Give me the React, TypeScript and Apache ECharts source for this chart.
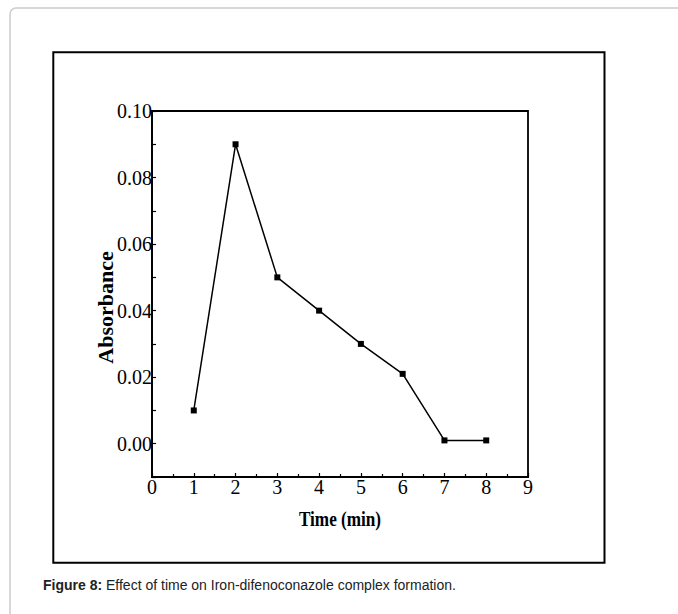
import React, { useEffect, useRef } from "react";
import * as echarts from "echarts";

const timeValues = [1, 2, 3, 4, 5, 6, 7, 8];
const absorbanceValues = [0.01, 0.09, 0.05, 0.04, 0.03, 0.021, 0.001, 0.001];
const xTickLabels = ["0", "1", "2", "3", "4", "5", "6", "7", "8", "9"];
const yTickLabels = ["0.00", "0.02", "0.04", "0.06", "0.08", "0.10"];
const xAxisTitle = "Time (min)";
const yAxisTitle = "Absorbance";
const captionBold = "Figure 8:";
const captionText = " Effect of time on Iron-difenoconazole complex formation.";

const SERIF = '"Liberation Serif", "Times New Roman", serif';
const SANS = '"Liberation Sans", Arial, sans-serif';

export default function App() {
  const ref = useRef<HTMLDivElement>(null);
  useEffect(() => {
    if (!ref.current) return;
    const chart = echarts.init(ref.current, null, { renderer: "svg" });
    const data = timeValues.map((t, i) => [t, absorbanceValues[i]]);
    chart.setOption({
      animation: false,
      backgroundColor: "#fff",
      grid: {
        left: 152,
        right: 150,
        top: 111,
        bottom: 137,
        show: true,
        borderColor: "#000",
        borderWidth: 1.8,
        containLabel: false,
      },
      xAxis: {
        type: "value",
        min: 0,
        max: 9,
        interval: 1,
        axisLine: { show: true, onZero: false, lineStyle: { color: "#000", width: 1.8 } },
        axisTick: { show: true, inside: true, length: 4, lineStyle: { color: "#000", width: 1.2 } },
        minorTick: { show: true, splitNumber: 2, length: 3, lineStyle: { color: "#000", width: 1.2 } },
        splitLine: { show: false },
        axisLabel: {
          margin: 0,
          fontFamily: SERIF,
          fontSize: 20,
          color: "#000",
          formatter: (v: number) => {
            const idx = Math.round(v);
            return xTickLabels[idx] ?? "";
          },
        },
      },
      yAxis: {
        type: "value",
        min: -0.01,
        max: 0.1,
        interval: 0.01,
        axisLine: { show: true, onZero: false, lineStyle: { color: "#000", width: 1.8 } },
        axisTick: { show: true, inside: true, length: 4, lineStyle: { color: "#000", width: 1.2 } },
        splitLine: { show: false },
        axisLabel: {
          margin: 0,
          fontFamily: SERIF,
          fontSize: 20,
          color: "#000",
          showMinLabel: true,
          showMaxLabel: true,
          formatter: (v: number) => {
            const k = Math.round(v * 100);
            if (k < 0 || k % 2 !== 0) return "";
            return yTickLabels[k / 2] ?? "";
          },
        },
      },
      series: [
        {
          type: "line",
          data,
          symbol: "rect",
          symbolSize: 6,
          lineStyle: { color: "#000", width: 1.5 },
          itemStyle: { color: "#000" },
          z: 5,
        },
      ],
      graphic: [
        {
          type: "rect",
          silent: true,
          z: -1,
          shape: { x: 10, y: 8, width: 720, height: 700, r: 6 },
          style: { fill: "none", stroke: "#cccccc", lineWidth: 1.5 },
        },
        {
          type: "rect",
          silent: true,
          shape: { x: 53.3, y: 52.2, width: 551.2, height: 510.5 },
          style: { fill: "none", stroke: "#000", lineWidth: 2 },
        },
        {
          type: "text",
          silent: true,
          x: 105.5,
          y: 307.5,
          rotation: Math.PI / 2,
          style: {
            text: yAxisTitle,
            fontFamily: SERIF,
            fontWeight: "bold",
            fontSize: 22,
            fill: "#000",
            align: "center",
            verticalAlign: "middle",
          },
        },
        {
          type: "text",
          silent: true,
          x: 340,
          y: 518.5,
          scaleX: 0.78,
          style: {
            text: xAxisTitle,
            fontFamily: SERIF,
            fontWeight: "bold",
            fontSize: 22,
            fill: "#000",
            align: "center",
            verticalAlign: "middle",
          },
        },
        {
          type: "text",
          left: 43,
          top: 578,
          style: {
            text: "{b|" + captionBold + "}{n|" + captionText + "}",
            rich: {
              b: { fontFamily: SANS, fontWeight: "bold", fontSize: 14, fill: "#222" },
              n: { fontFamily: SANS, fontSize: 14, fill: "#222" },
            },
          },
        },
      ],
    });
    return () => chart.dispose();
  }, []);
  return (
    <div
      ref={ref}
      style={{ position: "fixed", left: 0, top: 0, width: 678, height: 614 }}
    />
  );
}
